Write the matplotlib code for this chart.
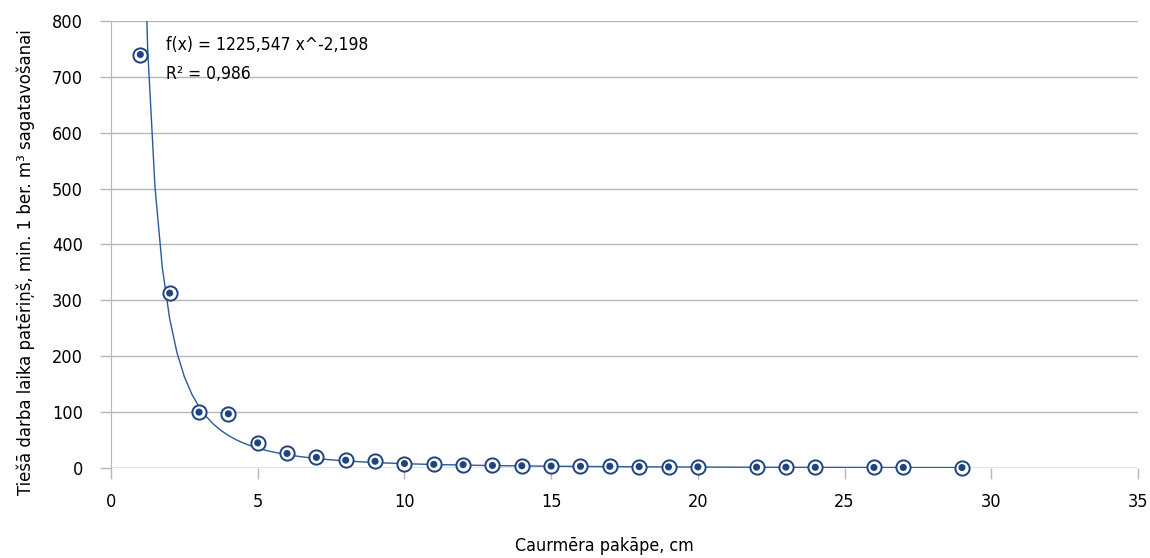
import numpy as np
import matplotlib
matplotlib.use("Agg")
import matplotlib.pyplot as plt
from matplotlib import font_manager

# Diameter classes (cm) and measured direct working time
diameter = [1, 2, 3, 4, 5, 6, 7, 8, 9, 10, 11, 12, 13, 14, 15, 16, 17, 18, 19, 20,
            22, 23, 24, 26, 27, 29]
time_min = [740, 313, 100, 97, 45, 26, 19, 14, 12, 8, 6.5, 6, 4.5, 4, 3.5, 3, 3, 2.5,
            2, 2, 1.5, 1.5, 1.2, 1, 1, 0.8]

# Power trend fit parameters
coef_a = 1225.547
coef_b = -2.198
r_squared = 0.986

x_ticks = [0, 5, 10, 15, 20, 25, 30, 35]
y_ticks = [0, 100, 200, 300, 400, 500, 600, 700, 800]


def pick_narrow_font():
    """Return a FontProperties for a condensed regular face, if one is installed."""
    cands = []
    for f in font_manager.fontManager.ttflist:
        fn = f.fname.lower()
        narrow = ("condensed" in fn or "narrow" in fn or
                  str(f.stretch) in ("condensed", "semi-condensed", "extra-condensed"))
        if not narrow:
            continue
        if f.style != "normal":
            continue
        if f.weight not in (400, "normal", "regular"):
            continue
        if "bold" in fn or "light" in fn or "oblique" in fn or "italic" in fn:
            continue
        cands.append(f.fname)
    cands.sort(key=lambda p: (0 if "sans" in p.lower() else 1, len(p)))
    if cands:
        return font_manager.FontProperties(fname=cands[0])
    return None


fp = pick_narrow_font()
if fp is None:
    fp = font_manager.FontProperties(family="DejaVu Sans")
    scale = 0.88
else:
    scale = 1.0

navy = "#1f447f"
line_col = "#2a5a9a"
grid_col = "#b7b7b7"

fig = plt.figure(figsize=(11.5, 5.58), dpi=100)
ax = fig.add_axes([0.0965, 0.1613, 0.8931, 0.8011])

# trend curve
xs = np.arange(1.0, 29.0001, 0.25)
ys = coef_a * xs ** coef_b
ax.plot(xs, ys, color=line_col, lw=1.0, zorder=3, clip_on=True)

# data points: open ring with a filled centre
ax.scatter(diameter, time_min, s=105, facecolor="white", edgecolor=navy,
           linewidths=1.4, zorder=4, clip_on=False)
ax.scatter(diameter, time_min, s=26, facecolor=navy, edgecolor="none", zorder=5,
           clip_on=False)

ax.set_xlim(0, 35)
ax.set_ylim(0, 800)
ax.set_xticks(x_ticks)
ax.set_yticks(y_ticks)
ax.yaxis.grid(True, color=grid_col, lw=1.0)
ax.set_axisbelow(True)
for s in ["top", "right", "bottom"]:
    ax.spines[s].set_visible(False)
ax.spines["left"].set_color(grid_col)
ax.tick_params(axis="both", colors=grid_col, labelcolor="black",
               length=8, width=1.0)
ax.tick_params(axis="x", pad=10)
ax.tick_params(axis="y", pad=12)
ax.axhline(0, color=grid_col, lw=1.0, zorder=1)

tick_fp = fp.copy()
tick_fp.set_size(13 * scale)
for lab in ax.get_xticklabels() + ax.get_yticklabels():
    lab.set_fontproperties(tick_fp)

lab_fp = fp.copy()
lab_fp.set_size(12.8 * scale)
ax.set_xlabel("Caurmēra pakāpe, cm", fontproperties=lab_fp, labelpad=19, x=0.48)
ylab_fp = fp.copy()
ylab_fp.set_size(13.2 * scale)
ax.set_ylabel("Tiešā darba laika patēriņš, min. 1 ber. m³ sagatavošanai",
              fontproperties=ylab_fp, labelpad=12, y=0.46)

ann_fp = fp.copy()
ann_fp.set_size(12.5 * scale)
ax.text(1.87, 757, f"f(x) = {coef_a:.3f} x^{coef_b:.3f}".replace(".", ","),
        fontproperties=ann_fp, va="center", ha="left")
ax.text(1.87, 705, f"R² = {r_squared:.3f}".replace(".", ","),
        fontproperties=ann_fp, va="center", ha="left")

fig.savefig("out.png", dpi=100)
